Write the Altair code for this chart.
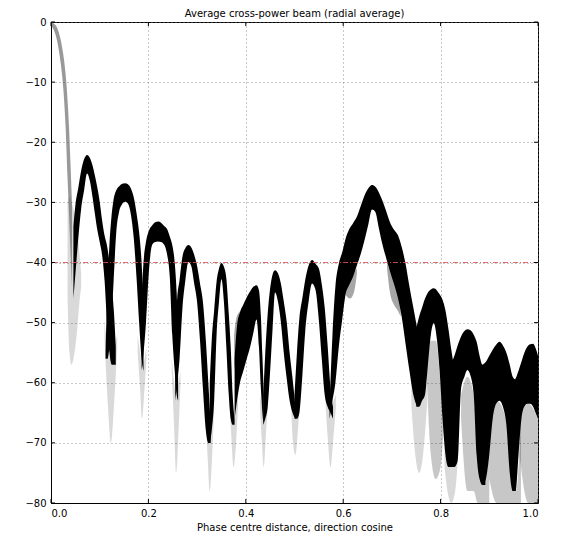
import altair as alt
import pandas as pd

TITLE = "Average cross-power beam (radial average)"
X_LABEL = "Phase centre distance, direction cosine"
X_TICKS = [0.0, 0.2, 0.4, 0.6, 0.8, 1.0]
Y_TICKS = [0, -10, -20, -30, -40, -50, -60, -70, -80]
THRESHOLD_DB = -40

# (direction cosine, upper edge dB, lower edge dB) of the dense point cloud
main_lobe = [
    (0.000, 0.0, -0.5), (0.005, -0.2, -1.2), (0.010, -0.6, -2.3), (0.015, -1.5, -4.2),
    (0.020, -3.0, -6.9), (0.025, -5.3, -10.8), (0.030, -8.7, -17.5), (0.034, -13.0, -26.0),
    (0.037, -17.5, -32.0), (0.040, -23.5, -38.0), (0.043, -30.0, -44.0),
]
lobe_01 = [
    (0.046, -34.0, -46.0), (0.050, -30.5, -42.0), (0.056, -27.6, -36.0), (0.062, -24.7, -31.0),
    (0.068, -22.8, -28.0), (0.074, -22.1, -25.2), (0.080, -22.6, -26.5), (0.085, -23.8, -29.0),
    (0.090, -25.5, -31.8), (0.095, -27.5, -34.5), (0.100, -29.9, -36.6), (0.105, -33.0, -38.8),
    (0.110, -35.5, -43.0), (0.115, -37.2, -50.0), (0.120, -40.0, -55.0), (0.125, -44.0, -57.0),
    (0.129, -48.0, -57.0), (0.133, -54.0, -57.0),
]
lobe_02 = [
    (0.112, -55.0, -56.0), (0.116, -44.0, -56.0), (0.120, -37.0, -54.0), (0.124, -32.5, -50.0),
    (0.128, -29.8, -44.0), (0.134, -28.0, -35.0), (0.140, -27.3, -31.5), (0.146, -26.9, -30.3),
    (0.152, -26.8, -29.9), (0.158, -27.0, -30.2), (0.164, -27.7, -32.0), (0.170, -29.2, -36.0),
    (0.176, -32.0, -43.0), (0.181, -35.0, -50.0), (0.186, -40.0, -56.0), (0.190, -47.0, -58.0),
]
lobe_03 = [
    (0.186, -46.0, -58.0), (0.190, -40.0, -55.0), (0.195, -36.6, -50.0), (0.201, -34.7, -41.5),
    (0.208, -33.8, -37.0), (0.214, -33.3, -36.6), (0.220, -33.2, -36.5), (0.226, -33.4, -36.6),
    (0.232, -33.9, -37.0), (0.238, -34.4, -38.5), (0.244, -35.7, -42.5), (0.249, -37.1, -52.0),
    (0.254, -40.0, -58.0), (0.258, -45.0, -62.0), (0.261, -52.0, -63.0),
]
lobe_04 = [
    (0.255, -52.0, -63.0), (0.259, -46.0, -60.0), (0.264, -42.9, -56.0), (0.270, -39.0, -47.5),
    (0.276, -37.6, -42.9), (0.282, -37.1, -39.9), (0.288, -37.5, -40.6), (0.294, -38.7, -43.5),
    (0.300, -40.6, -46.6), (0.306, -43.5, -53.0), (0.312, -46.6, -61.0), (0.318, -53.0, -68.0),
    (0.323, -60.0, -70.0), (0.328, -67.0, -70.0),
]
lobe_05 = [
    (0.326, -60.0, -70.0), (0.330, -53.0, -68.0), (0.335, -48.0, -63.0), (0.340, -43.2, -52.0),
    (0.345, -41.0, -46.5), (0.350, -40.1, -42.8), (0.355, -40.7, -46.5), (0.360, -42.6, -54.0),
    (0.365, -48.5, -62.0), (0.369, -54.0, -66.0), (0.373, -62.0, -67.0), (0.377, -66.0, -67.0),
]
lobe_06 = [
    (0.377, -56.0, -66.0), (0.382, -50.5, -63.0), (0.388, -48.3, -60.0), (0.395, -47.0, -58.0),
    (0.402, -45.8, -56.0), (0.409, -44.8, -54.0), (0.416, -44.0, -51.5), (0.422, -43.8, -49.5),
    (0.427, -44.6, -54.0), (0.431, -49.0, -61.0), (0.434, -55.4, -65.0), (0.437, -62.0, -67.0),
]
lobe_07 = [
    (0.436, -62.0, -67.0), (0.440, -55.0, -66.0), (0.445, -48.5, -64.0), (0.450, -44.3, -58.0),
    (0.455, -42.0, -51.0), (0.460, -41.3, -45.0), (0.466, -41.8, -46.5), (0.472, -43.5, -49.9),
    (0.478, -46.5, -55.0), (0.484, -49.9, -59.3), (0.490, -55.0, -63.0), (0.496, -59.3, -65.0),
    (0.502, -64.0, -66.0),
]
lobe_08 = [
    (0.500, -62.0, -66.0), (0.505, -55.0, -66.0), (0.510, -49.3, -65.0), (0.516, -46.0, -59.0),
    (0.522, -42.9, -51.5), (0.529, -40.5, -46.5), (0.536, -39.6, -43.5), (0.543, -40.2, -44.5),
    (0.550, -41.0, -49.6), (0.556, -43.6, -56.0), (0.562, -47.5, -62.0), (0.568, -53.8, -64.0),
    (0.574, -60.9, -65.0), (0.579, -64.0, -66.0),
]
lobe_09 = [
    (0.572, -64.0, -66.0), (0.578, -52.0, -63.0), (0.584, -44.0, -60.0), (0.591, -40.2, -54.0),
    (0.598, -38.3, -49.5), (0.605, -36.0, -45.3), (0.612, -34.5, -43.8), (0.620, -33.5, -42.4),
    (0.628, -32.4, -40.5), (0.636, -30.6, -38.6), (0.644, -28.8, -36.2), (0.652, -27.6, -33.5),
    (0.659, -27.1, -31.2), (0.666, -27.4, -31.6), (0.673, -28.3, -34.2), (0.680, -29.6, -36.8),
    (0.688, -31.4, -39.2), (0.696, -33.3, -41.5), (0.704, -34.5, -43.5), (0.712, -35.4, -45.8),
    (0.720, -37.4, -49.0), (0.728, -40.2, -53.5), (0.736, -44.0, -58.0), (0.744, -47.5, -62.0),
    (0.752, -51.0, -64.0),
]
lobe_10 = [
    (0.750, -51.0, -64.0), (0.756, -49.0, -64.0), (0.762, -47.5, -63.0), (0.768, -46.0, -62.0),
    (0.774, -45.0, -57.0), (0.780, -44.5, -52.0), (0.786, -44.3, -50.1), (0.792, -44.6, -52.5),
    (0.798, -45.3, -58.0), (0.804, -46.2, -66.0), (0.810, -48.0, -72.0), (0.816, -51.0, -74.0),
    (0.822, -54.5, -74.0), (0.828, -57.5, -73.0),
]
lobe_11 = [
    (0.820, -57.0, -74.0), (0.828, -55.6, -74.0), (0.835, -53.8, -73.0), (0.842, -52.3, -61.0),
    (0.849, -51.4, -59.0), (0.855, -51.1, -57.9), (0.862, -51.3, -59.0), (0.868, -52.0, -62.0),
    (0.874, -53.2, -72.0), (0.880, -55.5, -76.0), (0.886, -57.0, -77.0), (0.892, -57.0, -77.0),
]
lobe_12 = [
    (0.886, -57.0, -77.0), (0.893, -56.5, -76.0), (0.900, -55.5, -72.0), (0.907, -54.5, -66.0),
    (0.914, -53.7, -63.5), (0.921, -53.2, -63.0), (0.928, -53.8, -64.0), (0.935, -55.0, -67.0),
    (0.942, -57.0, -75.0), (0.948, -59.0, -78.0), (0.954, -59.5, -78.0),
]
lobe_13 = [
    (0.948, -60.0, -78.0), (0.954, -59.3, -78.0), (0.960, -58.0, -72.0), (0.966, -56.5, -66.0),
    (0.972, -55.0, -64.0), (0.978, -54.0, -63.5), (0.984, -53.6, -63.5), (0.990, -53.5, -64.0),
    (0.995, -54.2, -65.0), (1.000, -55.5, -66.0),
]

# sparse scatter below the nulls (x, upper dB, lower dB)
tail_00 = [(0.034, -30, -46), (0.038, -29, -55), (0.042, -30, -57), (0.046, -31, -56),
           (0.050, -33, -54), (0.054, -35, -51), (0.058, -38, -47), (0.062, -42, -44)]
tail_01 = [(0.110, -50, -53), (0.117, -54, -64), (0.123, -56, -70), (0.130, -54, -63), (0.136, -52, -54)]
tail_02 = [(0.178, -52, -55), (0.183, -55, -61), (0.187, -57, -66), (0.192, -56, -61), (0.196, -54, -56)]
tail_03 = [(0.248, -56, -58), (0.253, -60, -68), (0.257, -62, -75), (0.262, -60, -68), (0.266, -58, -60)]
tail_04 = [(0.317, -62, -64), (0.322, -66, -73), (0.326, -68, -78), (0.331, -66, -72), (0.335, -62, -64)]
tail_05 = [(0.367, -62, -64), (0.371, -64, -70), (0.375, -66, -74), (0.380, -64, -70), (0.384, -62, -64)]
tail_06 = [(0.429, -62, -64), (0.433, -64, -70), (0.437, -66, -74), (0.441, -64, -69), (0.445, -62, -64)]
tail_07 = [(0.493, -62, -64), (0.497, -64, -70), (0.502, -65, -72), (0.507, -64, -68), (0.511, -62, -64)]
tail_08 = [(0.564, -62, -64), (0.569, -63, -70), (0.574, -64, -74), (0.580, -63, -69), (0.585, -62, -64)]
tail_09 = [(0.740, -60, -64), (0.748, -62, -72), (0.756, -63, -75), (0.764, -62, -72), (0.772, -60, -64)]
tail_10 = [(0.808, -70, -74), (0.814, -72, -78), (0.822, -73, -80), (0.830, -72, -78), (0.836, -70, -72)]
# speckled interiors of the far sidelobes
inner_10 = [(0.772, -58, -60), (0.780, -53, -72), (0.790, -53, -76), (0.800, -60, -74), (0.806, -66, -68)]
inner_11 = [(0.842, -62, -66), (0.855, -59, -78), (0.868, -62, -78), (0.876, -72, -80), (0.888, -77, -80),
            (0.900, -72, -80)]
inner_12 = [(0.900, -70, -76), (0.915, -63, -80), (0.934, -66, -80), (0.945, -75, -80), (0.955, -78, -80),
            (0.965, -66, -80)]
inner_13 = [(0.962, -66, -72), (0.980, -63.5, -80), (1.000, -66, -80)]

# lighter fringes around the lobes
halo_06 = [(0.376, -52, -58), (0.380, -49.5, -56), (0.386, -48.3, -55), (0.392, -48, -52)]
halo_09_left = [(0.600, -40, -41), (0.606, -40.5, -45.5), (0.614, -41, -46), (0.622, -41.5, -45), (0.628, -41, -42)]
halo_09_right = [(0.690, -40, -41), (0.696, -41.5, -45), (0.704, -43, -47), (0.712, -45, -48), (0.718, -47, -49)]

LOBES = [lobe_01, lobe_02, lobe_03, lobe_04, lobe_05, lobe_06, lobe_07,
         lobe_08, lobe_09, lobe_10, lobe_11, lobe_12, lobe_13]
TAILS = [tail_00, tail_01, tail_02, tail_03, tail_04, tail_05, tail_06,
         tail_07, tail_08, tail_09, tail_10]
INNERS = [inner_10, inner_11, inner_12, inner_13]
HALOS = [halo_06, halo_09_left, halo_09_right]


def to_frame(segments, prefix):
    rows = []
    for i, seg in enumerate(segments):
        for x, top, bottom in seg:
            rows.append({"seg": f"{prefix}{i}", "x": x, "top": top, "bottom": bottom})
    return pd.DataFrame(rows)


W, H = 487, 481
FONT = "DejaVu Sans"

xs = alt.Scale(domain=[0, 1], nice=False, zero=False)
ys = alt.Scale(domain=[-80, 0], nice=False, zero=False)
x_axis = alt.Axis(values=X_TICKS, format=".1f", labelPadding=5, titlePadding=4)
y_axis = alt.Axis(values=Y_TICKS, format="d", labelPadding=5)
X_ENC = dict(scale=xs, axis=x_axis, title=X_LABEL)
Y_ENC = dict(scale=ys, axis=y_axis, title=None)


def band_layer(df, color, opacity):
    return alt.Chart(df).mark_area(
        color=color, opacity=opacity, interpolate="monotone", clip=True, strokeWidth=0
    ).encode(
        x=alt.X("x:Q", **X_ENC),
        y=alt.Y("top:Q", **Y_ENC),
        y2="bottom:Q",
        detail="seg:N",
    )


tails = band_layer(to_frame(TAILS, "t"), "black", 0.15)
inners = band_layer(to_frame(INNERS, "i"), "black", 0.22)
halos = band_layer(to_frame(HALOS, "h"), "black", 0.35)
main = band_layer(to_frame([main_lobe], "m"), "#555555", 0.6)
lobes = band_layer(to_frame(LOBES, "l"), "black", 1.0)

threshold = alt.Chart(pd.DataFrame({"db": [THRESHOLD_DB]})).mark_rule(
    color="#e05050", strokeDash=[5, 2, 1, 2], strokeWidth=1, opacity=0.85
).encode(y=alt.Y("db:Q", **Y_ENC))

xt = pd.DataFrame({"v": X_TICKS})
yt = pd.DataFrame({"v": Y_TICKS})
tick_style = dict(color="black", strokeWidth=1)
ticks = [
    alt.Chart(xt).mark_rule(**tick_style).encode(x=alt.X("v:Q", **X_ENC), y=alt.value(H), y2=alt.value(H - 4)),
    alt.Chart(xt).mark_rule(**tick_style).encode(x=alt.X("v:Q", **X_ENC), y=alt.value(0), y2=alt.value(4)),
    alt.Chart(yt).mark_rule(**tick_style).encode(y=alt.Y("v:Q", **Y_ENC), x=alt.value(0), x2=alt.value(4)),
    alt.Chart(yt).mark_rule(**tick_style).encode(y=alt.Y("v:Q", **Y_ENC), x=alt.value(W - 4), x2=alt.value(W)),
]

title = alt.Chart(pd.DataFrame({"t": [TITLE]})).mark_text(
    font=FONT, fontSize=10, color="black", align="center", baseline="middle"
).encode(text="t:N", x=alt.value(W / 2), y=alt.value(-8))

chart = alt.layer(tails, inners, halos, main, lobes, threshold, *ticks, title).properties(
    width=W,
    height=H,
    autosize=alt.AutoSizeParams(type="none"),
    padding={"left": 43, "top": 14, "right": 16, "bottom": 32},
).configure_view(
    stroke="black", strokeWidth=1
).configure_axis(
    labelFont=FONT, labelFontSize=10, labelColor="black",
    titleFont=FONT, titleFontSize=10, titleFontWeight="normal", titleColor="black",
    domain=True, domainColor="black", ticks=False,
    grid=True, gridColor="#777777", gridDash=[1, 3], gridWidth=1, gridOpacity=0.8,
)

chart.save("out.html", embed_options={"renderer": "svg", "actions": False})
